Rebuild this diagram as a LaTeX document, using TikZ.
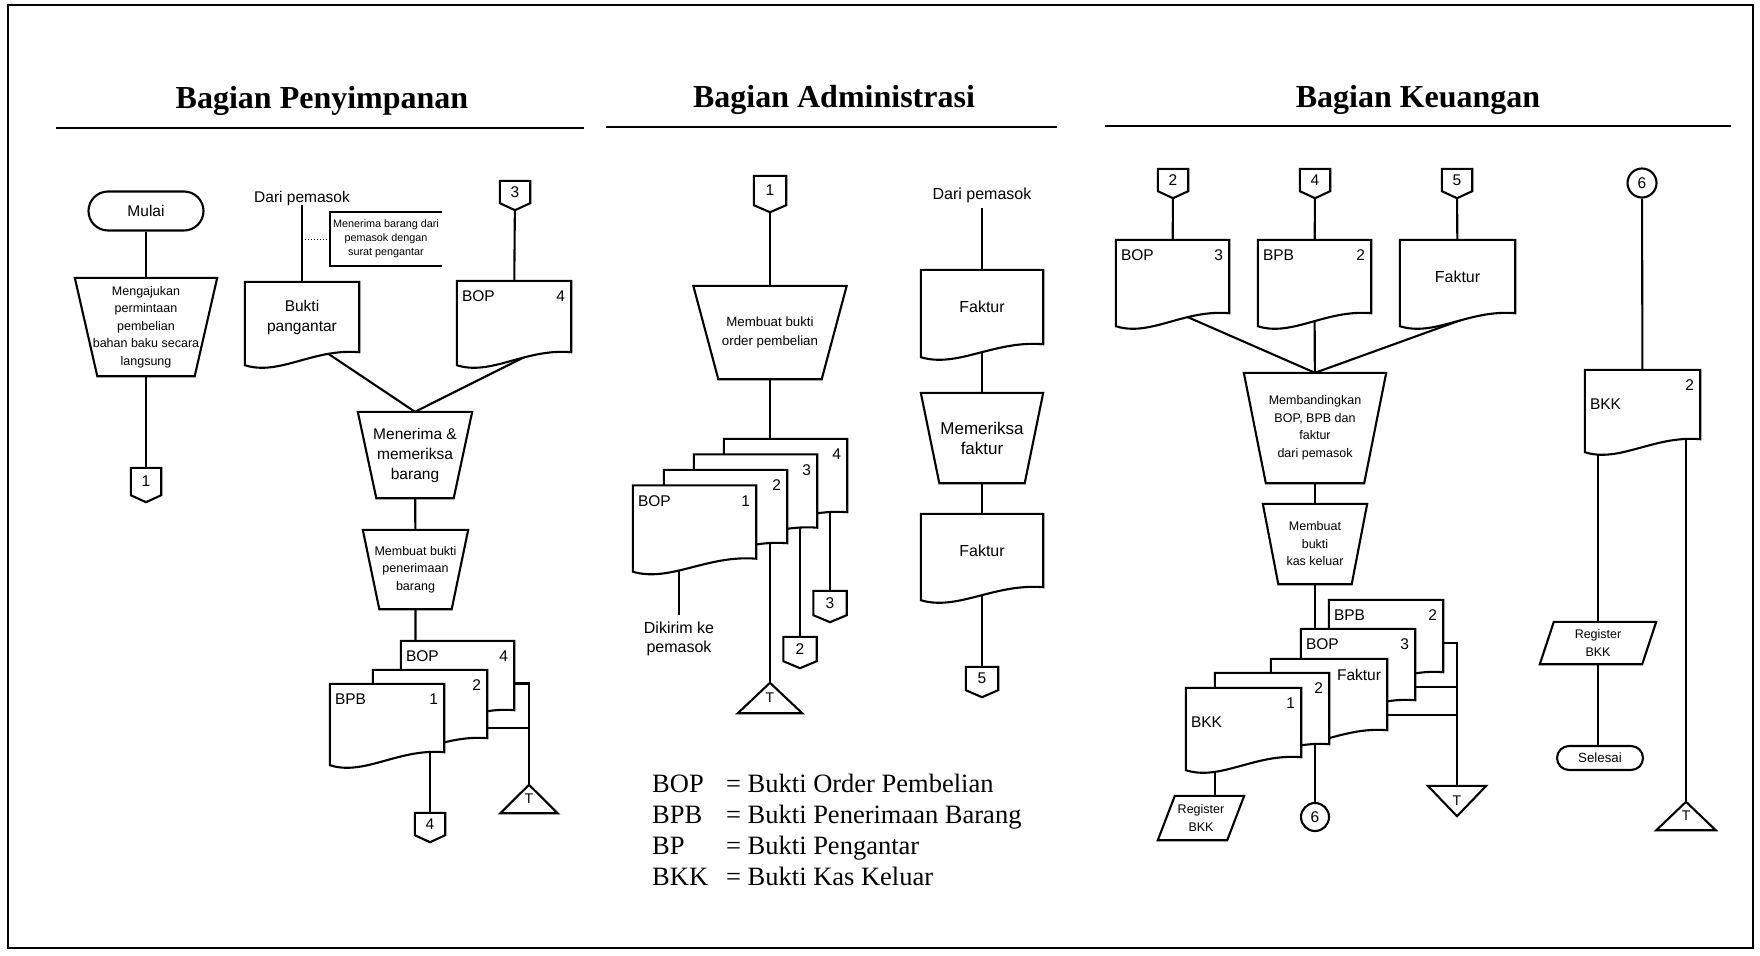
\documentclass[tikz,border=0pt]{standalone}
\usepackage{fontspec}
\setmainfont{Liberation Sans}
\newfontfamily\headfont{Liberation Serif}
\usetikzlibrary{calc}
\pgfdeclarelayer{wires}
\pgfdeclarelayer{forms}
\pgfsetlayers{wires,forms,main}
\tikzset{
  form/.style={draw,fill=white,line width=2.1pt},
  wire/.style={line width=2.1pt},
  sz/.style 2 args={minimum width=#1,minimum height=#2},
  stadium/.style={draw,fill=white,line width=2.1pt,rounded corners=#1},
  ring/.style={circle,draw,fill=white,line width=2.1pt,minimum size=29},
  lbl/.style={inner sep=0pt,font=\fontsize{15.5}{18}\selectfont},
  tagL/.style={label={[lbl,anchor=north west,xshift=5pt,yshift=-10pt]north west:#1}},
  tagR/.style={label={[lbl,anchor=north east,xshift=-6pt,yshift=-10pt]north east:#1}},
  tagW/.style={label={[lbl,anchor=west,xshift=5pt]west:#1}},
  ttl/.style={font=\headfont\bfseries\fontsize{32}{36}\selectfont},
  legend/.style={font=\headfont\fontsize{26.5}{31}\selectfont},
  f11/.style={font=\fontsize{10.8}{14}\selectfont},
  f12/.style={font=\fontsize{12.5}{17.5}\selectfont},
  f13/.style={font=\fontsize{13.3}{19}\selectfont},
  f16/.style={font=\fontsize{16}{19}\selectfont},
  f17/.style={font=\fontsize{17}{20}\selectfont},
}
\begin{document}
\begin{tikzpicture}[x=1pt,y=-1pt,font=\fontsize{15.5}{20}\selectfont,
  every node/.append style={inner sep=0pt,align=center}]
\useasboundingbox (0,0) rectangle (1760,955);
\draw[line width=2.5pt] (8,5) rectangle (1753,948);

\node[ttl,anchor=base] (hp) at (322,109) {Bagian Penyimpanan};
\node[ttl,anchor=base] (ha) at (834,108) {Bagian Administrasi};
\node[ttl,anchor=base] (hk) at (1418,107) {Bagian Keuangan};
\draw[line width=2.5pt] (56,128) -- (584,128);
\draw[line width=2.5pt] (606,127) -- (1057,127);
\draw[line width=2.5pt] (1105,126) -- (1731,126);

% Bagian Penyimpanan
\node[stadium=19.5pt,sz={115}{39}] (mulai) at (146,211) {Mulai};
\node[sz={142}{98},f12] (aju) at (146,327) {Mengajukan\\permintaan\\pembelian\\bahan baku secara\\langsung};
\node[sz={30}{27}] (c1) at (146,481.5) {1};
\node (darip1) at (302,198) {Dari pemasok};
\node[sz={112}{54},f11] (ket) at (386,239) {Menerima barang dari\\pemasok dengan\\surat pengantar};
\node[sz={114}{70}] (bp) at (302,317) {Bukti\\pangantar};
\node[sz={30}{22}] (c3) at (515,192) {3};
\node[sz={114}{71},tagL=BOP,tagR=4] (bop4) at (514,316.5) {};
\node[sz={114}{86}] (terima) at (415,455) {Menerima \&\\memeriksa\\barang};
\node[sz={105}{79},f12] (bpbop) at (415.5,569.5) {Membuat bukti\\penerimaan\\barang};
\node[sz={113}{69},tagL=BOP,tagR=4] (sbop4) at (457.5,675.5) {};
\node[sz={114}{68},tagR=2] (s2) at (430,704) {};
\node[sz={114}{68},tagL=BPB,tagR=1] (sbpb) at (387,718) {};
\node[sz={57}{28},font=\fontsize{14}{16}\selectfont] (t1) at (529,799) {T};
\node[sz={30}{22}] (c4) at (430,824) {4};

% Bagian Administrasi
\node[sz={32}{29}] (c1b) at (770,190.5) {1};
\node[sz={153}{93},f13] (order) at (770,332.5) {Membuat bukti\\order pembelian};
\node[sz={123}{73},tagR=4] (a4) at (785.5,475.5) {};
\node[sz={123}{73},tagR=3] (a3) at (755.5,491) {};
\node[sz={123}{73},tagR=2] (a2) at (725.5,506.5) {};
\node[sz={123}{73},tagL=BOP,tagR=1] (a1) at (694.5,522) {};
\node[f16,inner sep=6pt] (kirim) at (679,638.5) {Dikirim ke\\pemasok};
\node[sz={64}{30},font=\fontsize{14}{16}\selectfont] (ta) at (770,698) {T};
\node[sz={33}{24}] (c2b) at (800,649) {2};
\node[sz={33}{24}] (c3b) at (830,603) {3};
\node[f16,inner sep=5pt] (darip2) at (982,195) {Dari pemasok};
\node[sz={122}{74},f16] (fak1) at (982,307) {Faktur};
\node[sz={122}{90},f17] (periksa) at (982,438) {Memeriksa\\faktur};
\node[sz={122}{73},f16] (fak2) at (982,550.5) {Faktur};
\node[sz={32}{23}] (c5) at (982,678.5) {5};
\node[legend,anchor=base west] (leg) at (652,792) {\begin{tabular}[t]{@{}l@{\hspace{18pt}}l@{}}
BOP & = Bukti Order Pembelian\\
BPB & = Bukti Penerimaan Barang\\
BP & = Bukti Pengantar\\
BKK & = Bukti Kas Keluar
\end{tabular}};

% Bagian Keuangan
\node[sz={30}{22}] (ck2) at (1173,180) {2};
\node[sz={30}{22}] (ck4) at (1315,180) {4};
\node[sz={30}{22}] (ck5) at (1457,180) {5};
\node[ring] (ck6) at (1642,183) {6};
\node[sz={113}{73},tagL=BOP,tagR=3] (kbop3) at (1172.5,276.5) {};
\node[sz={113}{73},tagL=BPB,tagR=2] (kbpb2) at (1314.5,276.5) {};
\node[sz={115}{73},f16] (kfak) at (1457.5,276.5) {Faktur};
\node[sz={142}{110},f12] (banding) at (1315,428) {Membandingkan\\BOP, BPB dan\\faktur\\dari pemasok};
\node[sz={104}{80},f12] (kasbkk) at (1315,544) {Membuat\\bukti\\kas keluar};
\node[sz={114}{72},tagL=BPB,tagR=2] (kbpb) at (1386,636) {};
\node[sz={114}{71},tagL=BOP,tagR=3] (kbop) at (1358,664.5) {};
\node[sz={116}{71},tagR=Faktur] (kfk) at (1329,694.5) {};
\node[sz={114}{71},tagR=2] (k2) at (1272,708.5) {};
\node[sz={115}{69},tagR=1,tagW=BKK] (kbkk1) at (1243.5,722.5) {};
\node[sz={58}{30},font=\fontsize{14}{16}\selectfont] (tk) at (1457,801) {T};
\node[ring,minimum size=28] (ck6b) at (1315,817) {6};
\node[sz={86}{44},f12] (kreg) at (1201,818) {Register\\BKK};
\coordinate (kregin) at ($(kreg.north)+(14,0)$);
\node[sz={115}{69},tagR=2,tagW=BKK] (kbkk2) at (1642.5,404.5) {};
\node[sz={116}{42},f12] (kreg2) at (1598,643) {Register\\BKK};
\node[stadium=12pt,sz={86}{24},f13] (selesai) at (1600,758) {Selesai};
\node[sz={59}{28},font=\fontsize{14}{16}\selectfont] (tr) at (1686,816) {T};

\begin{pgfonlayer}{forms}
\foreach \n/\ins in {aju/22.5,terima/18.5,bpbop/16.5,order/25,periksa/18.5,banding/22,kasbkk/15.5}
  \draw[form] (\n.north west) -- (\n.north east) -- ($(\n.south east)+(-\ins,0)$) -- ($(\n.south west)+(\ins,0)$) -- cycle;
\foreach \n in {bp,bop4,sbop4,s2,sbpb,a4,a3,a2,a1,fak1,fak2,kbop3,kbpb2,kfak,kbpb,kbop,kfk,k2,kbkk1,kbkk2}
  \draw[form] (\n.south east) -- (\n.north east) -- (\n.north west) -- ($(\n.south west)+(0,13)$)
    .. controls ($(\n.south west)!0.3!(\n.south east)+(0,24)$) and ($(\n.south west)!0.6!(\n.south east)+(0,-4)$) .. (\n.south east) -- cycle;
\foreach \n in {c1,c3,c4,c1b,c2b,c3b,c5,ck2,ck4,ck5}
  \draw[form] (\n.south west) -- (\n.north west) -- (\n.north east) -- (\n.south east) -- ($(\n.south)+(0,7)$) -- cycle;
\foreach \n in {t1,ta,tr}
  \draw[form] (\n.south west) -- (\n.north) -- (\n.south east) -- cycle;
\draw[form] (tk.north west) -- (tk.north east) -- (tk.south) -- cycle;
\foreach \n/\ins in {kreg/17,kreg2/14}
  \draw[form] ($(\n.north west)+(\ins,0)$) -- (\n.north east) -- ($(\n.south east)+(-\ins,0)$) -- (\n.south west) -- cycle;
\draw[line width=2.1pt] (ket.north east) -- (ket.north west) -- (ket.south west) -- (ket.south east);
\end{pgfonlayer}

\begin{pgfonlayer}{wires}
\draw[wire] (mulai) -- (aju) -- (c1);
\draw[wire] (darip1.south) -- (bp);
\draw[line width=1pt,dotted] (ket.west) -- (ket.west -| bp.north);
\draw[wire] (c3) -- (bop4);
\draw[wire] ($(bp.south)+(6,-12)$) -- (terima.north) -- ($(bop4.south)+(45,-12.5)$);
\draw[wire] (terima) -- (bpbop) -- (bpbop |- sbop4.north);
\draw[wire] ([yshift=-8pt]sbop4.east) -| (t1.north);
\draw[wire] ([yshift=-24pt]s2.east) -| (t1.north);
\draw[wire] (c4 |- sbpb) -- (c4);

\draw[wire] (c1b) -- (order) -- (order |- a4.north);
\draw[wire] (kirim.north |- a1) -- (kirim.north);
\draw[wire] (ta.north |- a2) -- (ta.north);
\draw[wire] (c2b |- a3) -- (c2b);
\draw[wire] (c3b |- a4) -- (c3b);
\draw[wire] (darip2.south) -- (fak1) -- (periksa) -- (fak2) -- (c5);

\draw[wire] (ck2) -- (kbop3);
\draw[wire] (ck4) -- (kbpb2) -- (banding);
\draw[wire] (ck5) -- (kfak);
\draw[wire] ($(kbop3.south)+(-12,-8)$) -- (banding.north) -- ($(kfak.south)+(44.5,-8)$);
\draw[wire] (banding) -- (kasbkk) -- (kasbkk |- kbop.north);
\draw[wire] ([yshift=-7pt]kbpb.east) -| (tk.north);
\draw[wire] ([yshift=-22.5pt]kbop.east) -| (tk.north);
\draw[wire] ([yshift=-20.5pt]kfk.east) -| (tk.north);
\draw[wire] (ck6b |- k2) -- (ck6b);
\draw[wire] (kregin |- kbkk1) -- (kregin);
\draw[wire] (ck6) -- (kbkk2);
\draw[wire] (kreg2 |- kbkk2) -- (kreg2) -- (kreg2 |- selesai);
\draw[wire] (tr.north |- kbkk2) -- (tr.north);
\end{pgfonlayer}
\end{tikzpicture}
\end{document}
